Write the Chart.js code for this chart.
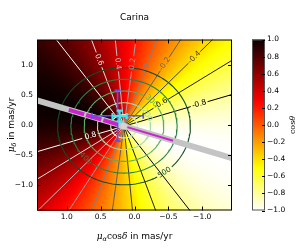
<!DOCTYPE html>
<html>
<head>
<meta charset="utf-8">
<script src="https://cdn.jsdelivr.net/npm/chart.js@4.4.1/dist/chart.umd.min.js"></script>
<style>
  html, body { margin: 0; padding: 0; background: #fff; }
</style>
</head>
<body>
<canvas id="c" width="300" height="250"></canvas>
<script>
// ticks
var xTicks = [1.0, 0.5, 0.0, -0.5, -1.0];
var yTicks = [-1.0, -0.5, 0.0, 0.5, 1.0];
var cbTicks = [-1.0, -0.8, -0.6, -0.4, -0.2, 0.0, 0.2, 0.4, 0.6, 0.8, 1.0];

// cos(theta) field, contours radiate from this point
var fieldCenter = [0.155, -0.02];   // mas/yr
var refAngle = 18.5;                // deg, direction of cos(theta) = 1
var cosLevels = [0.8, 0.6, 0.4, 0.2, 0.0, -0.2, -0.4, -0.6, -0.8];

// tangential speed contours, km/s
var speedLevels = [100, 200, 300, 400, 500];
var kmsPerMas = 510;

// measurements with errors
var measX = [0.25, 0.22];
var measY = [0.155, 0.15];
var measErrX = [0.38, 0.105];
var measErrY = [0.425, 0.09];
var measColor = ['#5252ff', '#40e8e8'];

// magenta stretches along the grey line (x from / to)
var pathFrom = [0.97, 0.12];
var pathTo = [0.25, -0.57];

// where the inline labels sit
var cosLabelLevel = [0.6, 0.4, 0.2, 0.0, -0.2, -0.4, -0.6, -0.8, 0.8];
var cosLabelSide = [1, 1, 1, 1, 1, 1, 1, 1, -1];
var cosLabelR = [1.17, 1.05, 1.05, 1.0, 1.2, 1.55, 0.66, 1.17, 0.52];
var speedLabelLevel = [200, 300, 400, 500];
var speedLabelAngle = [151, 134, -43.5, -127.6];

var DEG = Math.PI / 180;
var greens = {100: '#d4eecf', 200: '#a8dca0', 300: '#55b060', 400: '#268343', 500: '#124a24'};

function fmt(v) {
  if (Math.abs(v) < 1e-9) v = 0;
  return (v < 0 ? '\u2212' : '') + Math.abs(v).toFixed(1);
}
function pt(angDeg, r) {
  return {x: fieldCenter[0] + r * Math.cos(angDeg * DEG), y: fieldCenter[1] + r * Math.sin(angDeg * DEG)};
}
function levelAngle(level, side) {
  return refAngle + side * Math.acos(level) / DEG;
}
function grey(level) {
  var g = Math.round(255 * (level + 0.8) / 1.6);
  return 'rgb(' + g + ',' + g + ',' + g + ')';
}
function hot(s) {
  var r = s < 0.365079 ? 0.0416 + (1 - 0.0416) * s / 0.365079 : 1;
  var g = s < 0.365079 ? 0 : (s < 0.746032 ? (s - 0.365079) / (0.746032 - 0.365079) : 1);
  var b = s < 0.746032 ? 0 : (s - 0.746032) / (1 - 0.746032);
  return [r * 255, g * 255, b * 255];
}
function cosColor(c) { return hot((1 - c) / 2); }

var datasets = [];

// error bars
for (var k = 0; k < measX.length; k++) {
  var col = measColor[k];
  var lw = k === 0 ? 1.6 : 2.2;
  datasets.push({data: [{x: measX[k] - measErrX[k], y: measY[k]}, {x: measX[k] + measErrX[k], y: measY[k]}],
    borderColor: col, borderWidth: lw, showLine: true, pointRadius: 0, order: 1 - k * 0.5, clip: 0});
  datasets.push({data: [{x: measX[k], y: measY[k] - measErrY[k]}, {x: measX[k], y: measY[k] + measErrY[k]}],
    borderColor: col, borderWidth: lw, showLine: true, pointRadius: 0, order: 1 - k * 0.5, clip: 0});
  datasets.push({data: [{x: measX[k] - measErrX[k], y: measY[k]}, {x: measX[k] + measErrX[k], y: measY[k]}],
    pointStyle: 'line', rotation: 90, pointRadius: 3, borderColor: col, borderWidth: lw, showLine: false, order: 0, clip: 0});
  datasets.push({data: [{x: measX[k], y: measY[k] - measErrY[k]}, {x: measX[k], y: measY[k] + measErrY[k]}],
    pointStyle: 'line', rotation: 0, pointRadius: 3, borderColor: col, borderWidth: lw, showLine: false, order: 0, clip: 0});
}

// magenta stretches
var slope = Math.tan(refAngle * DEG);
for (var k = 0; k < pathFrom.length; k++) {
  datasets.push({data: [
      {x: pathFrom[k], y: fieldCenter[1] + (pathFrom[k] - fieldCenter[0]) * slope},
      {x: pathTo[k], y: fieldCenter[1] + (pathTo[k] - fieldCenter[0]) * slope}],
    borderColor: '#cc22cc', borderWidth: k === 0 ? 4 : 2, borderDash: k === 0 ? [16, 2] : [],
    showLine: true, pointRadius: 0, order: 2, clip: 0});
}

// grey reference line
datasets.push({data: [pt(refAngle, 3), pt(refAngle + 180, 3)], borderColor: '#c4c4c4', borderWidth: 6,
  showLine: true, pointRadius: 0, order: 3, clip: 0});

// speed circles with gaps for labels
speedLevels.forEach(function (v) {
  var r = v / kmsPerMas;
  var li = speedLabelLevel.indexOf(v);
  var gap = li >= 0 ? (0.13 / r) / DEG : 0;
  var pts = [];
  for (var a = 0; a <= 360; a += 2) {
    if (li >= 0) {
      var d = ((a - speedLabelAngle[li]) % 360 + 540) % 360 - 180;
      if (Math.abs(d) < gap) { pts.push({x: pt(a, r).x, y: null}); continue; }
    }
    pts.push(pt(a, r));
  }
  datasets.push({data: pts, borderColor: greens[v], borderWidth: 1.1, showLine: true, pointRadius: 0,
    spanGaps: false, order: 4, clip: 0});
});

// radial cos(theta) contours
cosLevels.forEach(function (lv) {
  [1, -1].forEach(function (side) {
    var ang = levelAngle(lv, side);
    var pts = [pt(ang, 0)];
    for (var i = 0; i < cosLabelLevel.length; i++) {
      if (cosLabelLevel[i] === lv && cosLabelSide[i] === side) {
        pts.push(pt(ang, cosLabelR[i] - 0.13));
        pts.push({x: pt(ang, cosLabelR[i]).x, y: null});
        pts.push(pt(ang, cosLabelR[i] + 0.13));
      }
    }
    pts.push(pt(ang, 3));
    datasets.push({data: pts, borderColor: grey(lv), borderWidth: 1, showLine: true, pointRadius: 0,
      spanGaps: false, order: 5, clip: 0});
  });
});

// centre marker
datasets.push({data: [pt(0, 0)], pointRadius: 3.5, backgroundColor: 'rgba(215,215,215,0.85)', borderWidth: 0,
  showLine: false, order: 1, clip: 0});

function rotUpright(a) {
  while (a > Math.PI / 2) a -= Math.PI;
  while (a < -Math.PI / 2) a += Math.PI;
  return a;
}

var fieldPlugin = {
  id: 'field',
  beforeDatasetsDraw: function (chart) {
    var a = chart.chartArea, xs = chart.scales.x, ys = chart.scales.y;
    var w = Math.round(a.right - a.left), h = Math.round(a.bottom - a.top);
    var off = document.createElement('canvas');
    off.width = w; off.height = h;
    var octx = off.getContext('2d');
    var img = octx.createImageData(w, h);
    for (var j = 0; j < h; j++) {
      var vy = ys.getValueForPixel(a.top + j + 0.5);
      for (var i = 0; i < w; i++) {
        var vx = xs.getValueForPixel(a.left + i + 0.5);
        var c = Math.cos(Math.atan2(vy - fieldCenter[1], vx - fieldCenter[0]) - refAngle * DEG);
        var rgb = cosColor(c);
        var p = (j * w + i) * 4;
        img.data[p] = rgb[0]; img.data[p + 1] = rgb[1]; img.data[p + 2] = rgb[2]; img.data[p + 3] = 255;
      }
    }
    octx.putImageData(img, 0, 0);
    chart.ctx.drawImage(off, a.left, a.top);
  },
  afterDatasetsDraw: function (chart) {
    var ctx = chart.ctx, a = chart.chartArea, xs = chart.scales.x, ys = chart.scales.y;
    ctx.save();
    ctx.beginPath(); ctx.rect(a.left, a.top, a.right - a.left, a.bottom - a.top); ctx.clip();
    ctx.textAlign = 'center'; ctx.textBaseline = 'middle';
    ctx.font = '7.5px "DejaVu Sans"';
    for (var i = 0; i < cosLabelLevel.length; i++) {
      var ang = levelAngle(cosLabelLevel[i], cosLabelSide[i]);
      var p = pt(ang, cosLabelR[i]), q = pt(ang, cosLabelR[i] + 0.1);
      var px = xs.getPixelForValue(p.x), py = ys.getPixelForValue(p.y);
      var rot = rotUpright(Math.atan2(ys.getPixelForValue(q.y) - py, xs.getPixelForValue(q.x) - px));
      ctx.save(); ctx.translate(px, py); ctx.rotate(rot);
      ctx.fillStyle = grey(cosLabelLevel[i]);
      ctx.fillText(cosLabelLevel[i].toFixed(1), 0, 0);
      ctx.restore();
    }
    for (var i = 0; i < speedLabelLevel.length; i++) {
      var r = speedLabelLevel[i] / kmsPerMas;
      var p = pt(speedLabelAngle[i], r), q = pt(speedLabelAngle[i] + 5, r);
      var px = xs.getPixelForValue(p.x), py = ys.getPixelForValue(p.y);
      var rot = rotUpright(Math.atan2(ys.getPixelForValue(q.y) - py, xs.getPixelForValue(q.x) - px));
      ctx.save(); ctx.translate(px, py); ctx.rotate(rot);
      ctx.fillStyle = greens[speedLabelLevel[i]];
      ctx.fillText(String(speedLabelLevel[i]), 0, 0);
      ctx.restore();
    }
    ctx.restore();

    // frame and inward ticks
    ctx.save();
    ctx.strokeStyle = '#000'; ctx.lineWidth = 1;
    ctx.strokeRect(a.left + 0.5, a.top + 0.5, a.right - a.left - 1, a.bottom - a.top - 1);
    ctx.beginPath();
    xTicks.forEach(function (v) {
      var x = Math.round(xs.getPixelForValue(v)) + 0.5;
      ctx.moveTo(x, a.bottom); ctx.lineTo(x, a.bottom - 4);
      ctx.moveTo(x, a.top); ctx.lineTo(x, a.top + 4);
    });
    yTicks.forEach(function (v) {
      var y = Math.round(ys.getPixelForValue(v)) + 0.5;
      ctx.moveTo(a.left, y); ctx.lineTo(a.left + 4, y);
      ctx.moveTo(a.right, y); ctx.lineTo(a.right - 4, y);
    });
    ctx.stroke();
    ctx.restore();
  },
  afterDraw: function (chart) {
    var ctx = chart.ctx, a = chart.chartArea, cb = chart.scales.cb;
    // colour bar
    var x0 = a.right + 20, x1 = a.right + 33;
    var g = ctx.createLinearGradient(0, cb.getPixelForValue(1), 0, cb.getPixelForValue(-1));
    for (var s = 0; s <= 20; s++) {
      var rgb = hot(s / 20);
      g.addColorStop(s / 20, 'rgb(' + rgb.map(Math.round).join(',') + ')');
    }
    ctx.save();
    ctx.fillStyle = g;
    ctx.fillRect(x0, a.top, x1 - x0, a.bottom - a.top);
    ctx.strokeStyle = '#555'; ctx.lineWidth = 1;
    ctx.strokeRect(x0 + 0.5, a.top + 0.5, x1 - x0 - 1, a.bottom - a.top - 1);
    ctx.beginPath();
    cbTicks.forEach(function (v) {
      var y = Math.round(cb.getPixelForValue(v)) + 0.5;
      ctx.moveTo(x1, y); ctx.lineTo(x1 - 3, y);
    });
    ctx.strokeStyle = '#000'; ctx.stroke();

    // title
    ctx.fillStyle = '#000';
    ctx.textAlign = 'center'; ctx.textBaseline = 'alphabetic';
    ctx.font = '9px "DejaVu Sans"';
    ctx.fillText('Carina', (a.left + a.right) / 2, 19.5);

    // axis labels
    var it = 'italic 9px "DejaVu Serif"', sub = 'italic 6.5px "DejaVu Serif"',
        rm = '9px "DejaVu Serif"', sans = '9px "DejaVu Sans"';
    drawRuns(ctx, [{t: '\u03bc', f: it}, {t: '\u03b1', f: sub, dy: 2}, {t: 'cos', f: rm}, {t: '\u03b4', f: it},
      {t: ' in mas/yr', f: sans}], (a.left + a.right) / 2, 239, 0);
    drawRuns(ctx, [{t: '\u03bc', f: it}, {t: '\u03b4', f: sub, dy: 2}, {t: ' in mas/yr', f: sans}],
      13.5, (a.top + a.bottom) / 2, -Math.PI / 2);
    drawRuns(ctx, [{t: 'cos', f: '8px "DejaVu Serif"'}, {t: '\u03b8', f: 'italic 8px "DejaVu Serif"'}],
      295, (a.top + a.bottom) / 2, -Math.PI / 2);
    ctx.restore();
  }
};

function drawRuns(ctx, runs, cx, cy, rot) {
  ctx.save();
  ctx.translate(cx, cy); ctx.rotate(rot);
  ctx.textAlign = 'left'; ctx.textBaseline = 'alphabetic'; ctx.fillStyle = '#000';
  var total = 0;
  runs.forEach(function (r) { ctx.font = r.f; r.w = ctx.measureText(r.t).width; total += r.w; });
  var x = -total / 2;
  runs.forEach(function (r) { ctx.font = r.f; ctx.fillText(r.t, x, r.dy || 0); x += r.w; });
  ctx.restore();
}

var tickFont = {family: 'DejaVu Sans', size: 7.5};

new Chart(document.getElementById('c'), {
  type: 'scatter',
  data: {datasets: datasets},
  options: {
    responsive: false,
    animation: false,
    events: [],
    layout: {padding: {top: 24, left: 0, right: 0, bottom: 0}},
    plugins: {legend: {display: false}, tooltip: {enabled: false}, title: {display: false}},
    scales: {
      x: {
        type: 'linear', reverse: true, min: -1.44, max: 1.44,
        grid: {display: false, drawTicks: false}, border: {display: false},
        ticks: {font: tickFont, color: '#000', padding: 2, autoSkip: false, maxRotation: 0, callback: fmt},
        afterBuildTicks: function (s) { s.ticks = xTicks.map(function (v) { return {value: v}; }); },
        afterFit: function (s) { s.height = 30; }
      },
      y: {
        type: 'linear', position: 'left', min: -1.43, max: 1.43,
        grid: {display: false, drawTicks: false}, border: {display: false},
        ticks: {font: tickFont, color: '#000', padding: 4, autoSkip: false, callback: fmt},
        afterBuildTicks: function (s) { s.ticks = yTicks.map(function (v) { return {value: v}; }); },
        afterFit: function (s) { s.width = 37; }
      },
      cb: {
        type: 'linear', position: 'right', min: -1, max: 1,
        grid: {display: false, drawTicks: false}, border: {display: false},
        ticks: {font: tickFont, color: '#000', padding: 35, autoSkip: false, callback: fmt},
        afterBuildTicks: function (s) { s.ticks = cbTicks.map(function (v) { return {value: v}; }); },
        afterFit: function (s) { s.width = 68; }
      }
    }
  },
  plugins: [fieldPlugin]
});
</script>
</body>
</html>
